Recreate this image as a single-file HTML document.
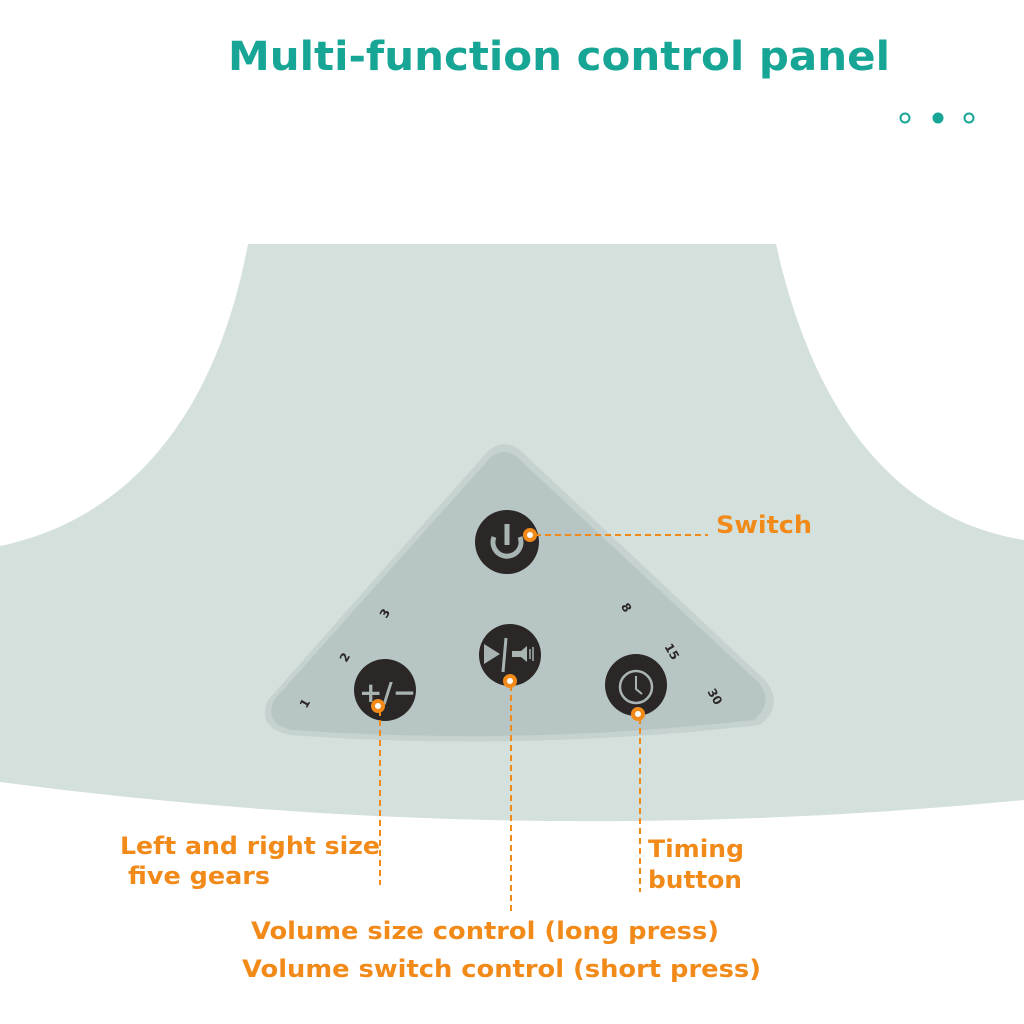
<!DOCTYPE html>
<html><head><meta charset="utf-8"><style>
html,body{margin:0;padding:0;background:#fff;}
svg{display:block;}
</style></head><body>
<svg width="1024" height="1024" viewBox="0 0 1024 1024" xmlns="http://www.w3.org/2000/svg" font-family="DejaVu Sans, Liberation Sans, sans-serif" font-weight="bold">
<rect width="1024" height="1024" fill="#fff"/>
<text x="228" y="70" font-size="40" fill="#17a596" textLength="662" lengthAdjust="spacingAndGlyphs">Multi-function control panel</text>
<circle cx="905" cy="118" r="4.5" fill="none" stroke="#17a596" stroke-width="2"/>
<circle cx="938" cy="118" r="5.5" fill="#17a596"/>
<circle cx="969" cy="118" r="4.5" fill="none" stroke="#17a596" stroke-width="2"/>
<!-- body -->
<path d="M248 244 L776 244 C 815 420 900 520 1024 540 L1024 800 Q 512 850 0 782 L0 546 C 125 520 215 420 248 244 Z" fill="#d4e0db"/>
<!-- panel -->
<path d="M487 452 Q505 436 522 452 L765 680 Q785 705 760 725 Q520 752 290 735 Q256 728 268 700 Z" fill="#c5d2cf"/>
<path d="M490 458 Q505 446 518 458 L758 682 Q775 702 754 720 Q520 746 292 730 Q264 724 274 700 Z" fill="#b7c6c4"/>
<!-- buttons -->
<circle cx="507" cy="542" r="32" fill="#2b2727"/>
<path d="M494 537 A14 14 0 1 0 520 537" fill="none" stroke="#a8b4b2" stroke-width="5"/>
<line x1="507" y1="524" x2="507" y2="545" stroke="#a8b4b2" stroke-width="5"/>
<circle cx="385" cy="690" r="31" fill="#2b2727"/>
<text x="359" y="702" font-size="28" fill="#a8b4b2">+/−</text>
<circle cx="510" cy="655" r="31" fill="#2b2727"/>
<polygon points="484,644 484,664 500,654" fill="#a8b4b2"/>
<line x1="506" y1="638" x2="503" y2="672" stroke="#a8b4b2" stroke-width="3"/>
<rect x="512" y="651" width="10" height="6" fill="#a8b4b2"/>
<polygon points="521,651 527,646 527,662 521,657" fill="#a8b4b2"/>
<line x1="530" y1="649" x2="530" y2="659" stroke="#a8b4b2" stroke-width="1.5"/>
<line x1="533" y1="647" x2="533" y2="661" stroke="#a8b4b2" stroke-width="1.5"/>
<circle cx="636" cy="685" r="31" fill="#2b2727"/>
<circle cx="636" cy="687" r="16" fill="none" stroke="#a8b4b2" stroke-width="2.5"/>
<polyline points="636,676 636,689 642,694" fill="none" stroke="#a8b4b2" stroke-width="2"/>
<!-- numbers -->
<g font-size="12" fill="#2b2727">
<text x="300" y="708" transform="rotate(-60 304 703)">1</text>
<text x="340" y="662" transform="rotate(-60 344 657)">2</text>
<text x="380" y="618" transform="rotate(-60 384 613)">3</text>
<text x="623" y="612" transform="rotate(60 627 607)">8</text>
<text x="665" y="655" transform="rotate(60 672 650)">15</text>
<text x="708" y="700" transform="rotate(60 715 695)">30</text>
</g>
<!-- dashed connectors -->
<g stroke="#f28a1a" stroke-width="2" stroke-dasharray="6 4" fill="none">
<line x1="535" y1="535" x2="708" y2="535"/>
<line x1="380" y1="710" x2="380" y2="885"/>
<line x1="511" y1="685" x2="511" y2="912"/>
<line x1="640" y1="718" x2="640" y2="892"/>
</g>
<g fill="#fff" stroke="#f28a1a" stroke-width="4">
<circle cx="530" cy="535" r="5"/>
<circle cx="378" cy="706" r="5"/>
<circle cx="510" cy="681" r="5"/>
<circle cx="638" cy="714" r="5"/>
</g>
<g fill="#f28a1a" font-size="24">
<text x="716" y="533" textLength="96" lengthAdjust="spacingAndGlyphs">Switch</text>
<text x="120" y="854" textLength="260" lengthAdjust="spacingAndGlyphs">Left and right size</text>
<text x="128" y="884" textLength="142" lengthAdjust="spacingAndGlyphs">five gears</text>
<text x="648" y="857" textLength="96" lengthAdjust="spacingAndGlyphs">Timing</text>
<text x="648" y="888" textLength="94" lengthAdjust="spacingAndGlyphs">button</text>
<text x="251" y="939" textLength="468" lengthAdjust="spacingAndGlyphs">Volume size control (long press)</text>
<text x="242" y="977" textLength="519" lengthAdjust="spacingAndGlyphs">Volume switch control (short press)</text>
</g>
</svg>
</body></html>
